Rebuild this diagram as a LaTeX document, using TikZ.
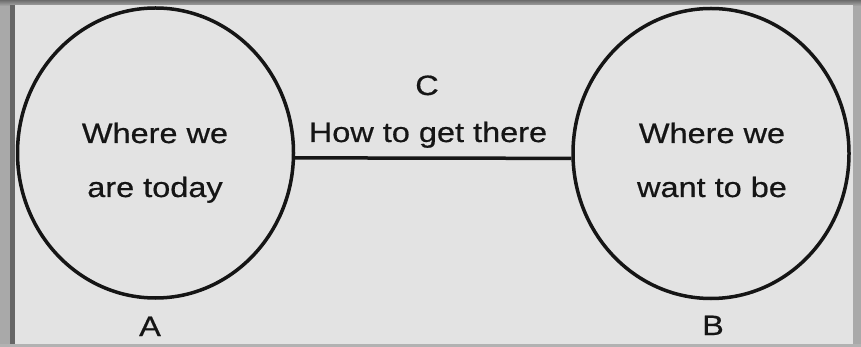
\documentclass[tikz,border=0pt]{standalone}
\usepackage{fontspec}
\setmainfont{Liberation Sans}[FakeStretch=1.16,FakeBold=0.6]
\usetikzlibrary{shapes.geometric}
\definecolor{panel}{HTML}{E3E3E3}
\definecolor{frame}{HTML}{A9A9A9}
\definecolor{ink}{HTML}{151515}
\tikzset{
  place/.style={ellipse, draw=ink, line width=3.5pt, minimum width=276pt, minimum height=290pt, inner sep=0pt},
  body/.style={text=ink, font=\fontsize{28}{54}\selectfont, align=center, inner sep=0pt, anchor=base},
  tag/.style={text=ink, font=\fontsize{28}{34}\selectfont, inner sep=0pt, anchor=base},
  link/.style={draw=ink, line width=3.5pt}
}
\begin{document}
\begin{tikzpicture}[x=1pt,y=-1pt]
\useasboundingbox (0,0) rectangle (861,347);
\fill[frame] (0,0) rectangle (861,347);
\shade[top color=gray!85!black, bottom color=frame] (0,0) rectangle (861,6);
\fill[gray!80!black] (10,5) rectangle (15,344);
\fill[gray!60] (0,344) rectangle (861,347);
\fill[panel] (15,5) rectangle (853,344);
\node[place] (A) at (155.5,153) {};
\node[place] (B) at (711,153.5) {};
\draw[link] (A.-2.5) -- (B.182.5);
\node[body] (ta) at (155,197) {Where we\\are today};
\node[body] (tb) at (712,197) {Where we\\want to be};
\node[tag] (c) at (427,95) {C};
\node[tag] (ct) at (428,142) {How to get there};
\node[tag] (a) at (150,336) {A};
\node[tag] (b) at (713,335) {B};
\end{tikzpicture}
\end{document}
